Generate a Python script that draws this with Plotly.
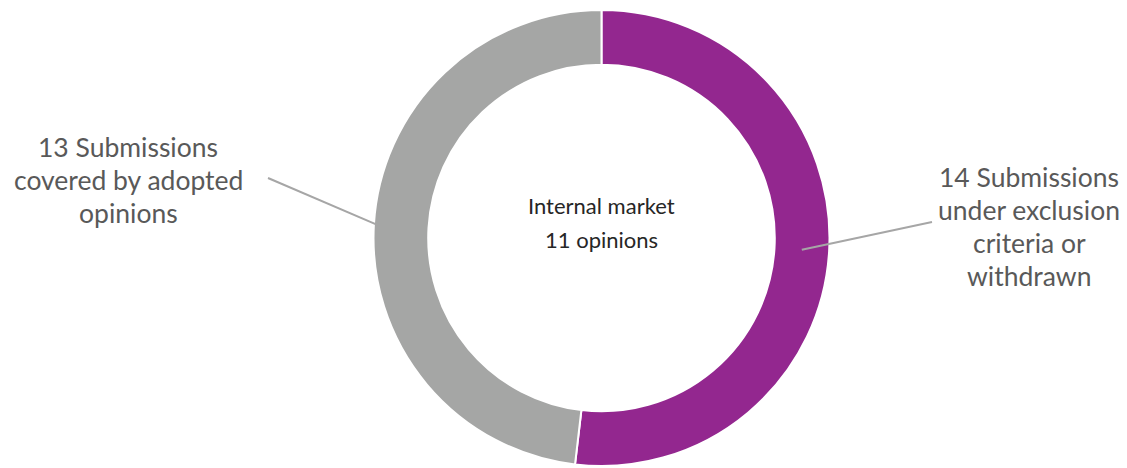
import math
import plotly.graph_objects as go

# Submissions split for the internal market opinions
categories = ["14 Submissions under exclusion criteria or withdrawn",
              "13 Submissions covered by adopted opinions"]
values = [14, 13]
colors = ["#93278F", "#A5A6A5"]

label_lines = [
    ["14 Submissions", "under exclusion", "criteria or", "withdrawn"],
    ["13 Submissions", "covered by adopted", "opinions"],
]
center_lines = ["Internal market", "11 opinions"]

W, H = 1127, 468
CX, CY = 601.5, 238.0      # donut centre in pixels (from top-left)
R_OUT = 228.0
HOLE = 0.76

def px(x):
    return x / W

def py(y):
    return 1 - y / H

fig = go.Figure(go.Pie(
    labels=categories,
    values=values,
    marker=dict(colors=colors, line=dict(color="white", width=2)),
    hole=HOLE,
    sort=False,
    direction="clockwise",
    rotation=0,
    textinfo="none",
    hoverinfo="label+value",
    showlegend=False,
    domain=dict(x=[px(CX - R_OUT), px(CX + R_OUT)],
                y=[py(CY + R_OUT), py(CY - R_OUT)]),
))

# slice mid-angles (clockwise from 12 o'clock) for the leader lines
total = sum(values)
mids = []
acc = 0
for v in values:
    mids.append(360 * (acc + v / 2) / total)
    acc += v

def ring_point(angle_deg, radius):
    a = math.radians(angle_deg)
    return CX + radius * math.sin(a), CY - radius * math.cos(a)

shapes = []
annotations = []
label_font = dict(family="Lato, 'Noto Sans', sans-serif", size=26.5, color="#595959")
LINE_STEP = 33

# right label (purple slice)
x0, y0 = ring_point(mids[0], R_OUT * (1 + HOLE) / 2)
shapes.append(dict(type="line", xref="paper", yref="paper",
                   x0=px(x0), y0=py(y0), x1=px(932), y1=py(222),
                   line=dict(color="#A6A6A6", width=2)))
for i, t in enumerate(label_lines[0]):
    annotations.append(dict(text=t, x=px(1029), y=py(177 + LINE_STEP * i),
                            xref="paper", yref="paper", showarrow=False,
                            xanchor="center", yanchor="middle", font=label_font))

# left label (grey slice)
x0, y0 = ring_point(mids[1], R_OUT * 0.985)
shapes.append(dict(type="line", xref="paper", yref="paper",
                   x0=px(x0), y0=py(y0), x1=px(268), y1=py(178),
                   line=dict(color="#A6A6A6", width=2)))
for i, t in enumerate(label_lines[1]):
    annotations.append(dict(text=t, x=px(128), y=py(147 + LINE_STEP * i),
                            xref="paper", yref="paper", showarrow=False,
                            xanchor="center", yanchor="middle", font=label_font))

# centre caption
for i, t in enumerate(center_lines):
    annotations.append(dict(text=t, x=px(CX), y=py(205 + 35 * i),
                            xref="paper", yref="paper", showarrow=False,
                            xanchor="center", yanchor="middle",
                            font=dict(family="Lato, 'Noto Sans', sans-serif",
                                      size=22, color="#262626")))

fig.update_layout(
    width=W, height=H,
    margin=dict(l=0, r=0, t=0, b=0),
    paper_bgcolor="white",
    plot_bgcolor="white",
    shapes=shapes,
    annotations=annotations,
)

fig.write_html("out.html")
